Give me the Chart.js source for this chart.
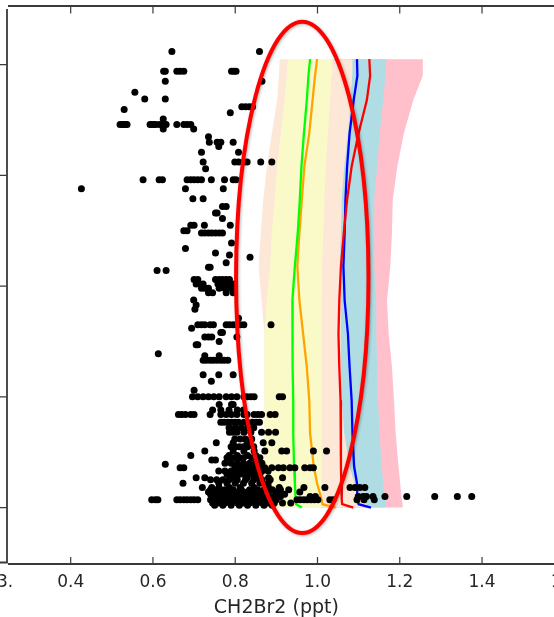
<!DOCTYPE html>
<html>
<head>
<meta charset="utf-8">
<script src="https://cdn.jsdelivr.net/npm/chart.js@4.4.1/dist/chart.umd.min.js"></script>
<style>
  html, body { margin: 0; padding: 0; background: #fff; overflow: hidden; }
  #chart { position: absolute; left: 0; top: 0; }
</style>
</head>
<body>
<canvas id="chart" width="640" height="617"></canvas>
<script>
// profile levels (y) shared by bands and model lines
const levels = [4.05, 3.9, 3.68, 3.38, 3.08, 2.78, 2.48, 2.18, 1.87, 1.57, 1.27, 0.97, 0.67, 0.37, 0.22, 0.07, 0.03, 0.0];

// band edges (x, ppt) at each level
const peachL = [0.908, 0.906, 0.902, 0.889, 0.877, 0.868, 0.862, 0.857, 0.864, 0.871, 0.871, 0.871, 0.871, 0.871, 0.871, 0.871, 0.871, 0.871];
const yellowL = [0.928, 0.925, 0.920, 0.911, 0.902, 0.896, 0.889, 0.885, 0.877, 0.871, 0.871, 0.871, 0.871, 0.871, 0.871, 0.871, 0.871, 0.871];
const yellowR = [1.035, 1.033, 1.031, 1.025, 1.020, 1.017, 1.014, 1.011, 1.010, 1.010, 1.010, 1.010, 1.010, 1.010, 1.010, 1.010, 1.010, 1.010];
const peachR = [1.085, 1.084, 1.081, 1.074, 1.065, 1.059, 1.057, 1.054, 1.057, 1.057, 1.057, 1.059, 1.065, 1.078, 1.090, 1.110, 1.118, 1.121];
const blueR = [1.167, 1.165, 1.160, 1.151, 1.145, 1.138, 1.138, 1.138, 1.143, 1.143, 1.145, 1.147, 1.151, 1.156, 1.160, 1.164, 1.166, 1.166];
const pinkR = [1.256, 1.256, 1.233, 1.210, 1.194, 1.183, 1.181, 1.177, 1.169, 1.173, 1.181, 1.186, 1.190, 1.197, 1.201, 1.205, 1.207, 1.207];

// model profiles
const greenLine = [0.982, 0.978, 0.974, 0.967, 0.961, 0.957, 0.952, 0.945, 0.939, 0.939, 0.940, 0.941, 0.941, 0.943, 0.945, 0.947, 0.948, 0.962];
const orangeLine = [0.999, 0.994, 0.988, 0.980, 0.968, 0.962, 0.956, 0.951, 0.956, 0.965, 0.974, 0.980, 0.982, 0.991, 0.999, 1.010, 1.012, 1.044];
const blueLine = [1.096, 1.097, 1.088, 1.078, 1.072, 1.068, 1.066, 1.063, 1.066, 1.074, 1.078, 1.083, 1.085, 1.089, 1.096, 1.097, 1.100, 1.130];
const redLine = [1.126, 1.128, 1.120, 1.100, 1.083, 1.072, 1.064, 1.057, 1.053, 1.051, 1.053, 1.056, 1.057, 1.057, 1.058, 1.059, 1.060, 1.087];

// observations: [y, [x values]]
const obsRows = [
  [4.12, [0.646, 0.859]],
  [3.94, [0.626, 0.630, 0.658, 0.666, 0.675, 0.791, 0.797, 0.802]],
  [3.85, [0.630, 0.865]],
  [3.75, [0.556]],
  [3.69, [0.580, 0.630]],
  [3.62, [0.816, 0.825, 0.834, 0.842]],
  [3.595, [0.530]],
  [3.565, [0.788]],
  [3.51, [0.625]],
  [3.46, [0.520, 0.525, 0.529, 0.533, 0.537, 0.593, 0.597, 0.602, 0.606, 0.615, 0.623, 0.628, 0.632, 0.658, 0.675, 0.683, 0.692]],
  [3.42, [0.625, 0.699]],
  [3.35, [0.735]],
  [3.30, [0.737, 0.756, 0.765, 0.795]],
  [3.26, [0.760]],
  [3.21, [0.718, 0.808]],
  [3.12, [0.722, 0.799, 0.808, 0.821, 0.829, 0.862, 0.889]],
  [3.06, [0.728]],
  [2.96, [0.576, 0.615, 0.623, 0.683, 0.692, 0.700, 0.709, 0.718, 0.742, 0.774, 0.795, 0.802]],
  [2.88, [0.426, 0.679, 0.771]],
  [2.79, [0.697, 0.722]],
  [2.72, [0.769, 0.778]],
  [2.66, [0.752, 0.756]],
  [2.61, [0.769]],
  [2.55, [0.692, 0.700, 0.725, 0.788]],
  [2.50, [0.675, 0.683]],
  [2.48, [0.718, 0.726, 0.735, 0.743, 0.752, 0.761, 0.769]],
  [2.39, [0.791]],
  [2.34, [0.679]],
  [2.30, [0.752]],
  [2.28, [0.786]],
  [2.26, [0.836]],
  [2.21, [0.778]],
  [2.17, [0.735, 0.739]],
  [2.14, [0.610, 0.632]],
  [2.06, [0.700, 0.709, 0.752, 0.761, 0.769, 0.778, 0.786]],
  [2.02, [0.705, 0.714, 0.722, 0.758, 0.768, 0.782, 0.795]],
  [1.98, [0.718, 0.726, 0.735, 0.761, 0.775, 0.789, 0.795]],
  [1.94, [0.735, 0.745, 0.778, 0.795]],
  [1.875, [0.699]],
  [1.83, [0.705]],
  [1.79, [0.702]],
  [1.71, [0.808]],
  [1.65, [0.709, 0.718, 0.726, 0.739, 0.747, 0.778, 0.786, 0.795, 0.804, 0.812, 0.821, 0.887]],
  [1.62, [0.694]],
  [1.58, [0.765, 0.769]],
  [1.54, [0.726, 0.735, 0.743, 0.804]],
  [1.50, [0.761]],
  [1.47, [0.705, 0.709]],
  [1.39, [0.613]],
  [1.37, [0.726, 0.761]],
  [1.33, [0.722, 0.730, 0.739, 0.747, 0.756, 0.765, 0.773, 0.782]],
  [1.20, [0.722, 0.760, 0.795]],
  [1.14, [0.742]],
  [1.06, [0.700]],
  [1.00, [0.696, 0.709, 0.722, 0.735, 0.748, 0.761, 0.778, 0.791, 0.804, 0.821, 0.829, 0.838, 0.846, 0.907, 0.915]],
  [0.93, [0.761, 0.791, 0.795]],
  [0.88, [0.745, 0.765, 0.785, 0.805, 0.820]],
  [0.84, [0.662, 0.670, 0.679, 0.692, 0.700, 0.739, 0.765, 0.778, 0.791, 0.804, 0.821, 0.829, 0.846, 0.855, 0.864, 0.885, 0.897]],
  [0.77, [0.765, 0.773, 0.782, 0.791, 0.799, 0.808, 0.821, 0.829, 0.842, 0.851, 0.859]],
  [0.72, [0.785, 0.800, 0.815, 0.830, 0.845]],
  [0.68, [0.786, 0.795, 0.804, 0.821, 0.838, 0.864, 0.881, 0.898]],
  [0.62, [0.799, 0.812, 0.825, 0.840]],
  [0.585, [0.754, 0.795, 0.829, 0.868, 0.889]],
  [0.55, [0.790, 0.800, 0.810, 0.820, 0.830, 0.845]],
  [0.51, [0.726, 0.795, 0.821, 0.846, 0.872, 0.913, 0.925, 0.990, 1.022]],
  [0.47, [0.692, 0.785, 0.805, 0.830, 0.850]],
  [0.45, [0.780, 0.790, 0.800, 0.810, 0.820, 0.840, 0.860]],
  [0.43, [0.743, 0.752]],
  [0.40, [0.775, 0.790, 0.805, 0.820, 0.835, 0.850, 0.865]],
  [0.39, [0.630]],
  [0.36, [0.666, 0.675, 0.799, 0.808, 0.816, 0.825, 0.834, 0.842, 0.851, 0.859, 0.872, 0.889, 0.905, 0.917, 0.933, 0.945, 0.969, 0.982, 0.990]],
  [0.33, [0.760, 0.775, 0.790, 0.805, 0.820, 0.835, 0.850, 0.865, 0.880]],
  [0.30, [0.780, 0.790, 0.800, 0.810, 0.820, 0.830, 0.840, 0.850, 0.860]],
  [0.27, [0.705, 0.726, 0.795, 0.829, 0.855, 0.881, 0.915]],
  [0.25, [0.740, 0.755, 0.770, 0.785, 0.805, 0.825, 0.845, 0.865, 0.885]],
  [0.22, [0.673, 0.760, 0.780, 0.800, 0.820, 0.840, 0.860, 0.880]],
  [0.18, [0.720, 0.743, 0.761, 0.786, 0.812, 0.846, 0.881, 0.907, 0.967, 1.018, 1.079, 1.091, 1.103, 1.115]],
  [0.16, [0.740, 0.755, 0.775, 0.795, 0.815, 0.835, 0.855, 0.870, 0.890, 0.910, 0.930]],
  [0.14, [0.735, 0.752, 0.769, 0.786, 0.800, 0.812, 0.829, 0.846, 0.864, 0.881, 0.898, 0.957]],
  [0.12, [0.740, 0.760, 0.780, 0.800, 0.820, 0.840, 0.860, 0.880, 0.900, 0.920]],
  [0.10, [0.745, 0.760, 0.775, 0.790, 0.805, 0.820, 0.835, 0.850, 0.865, 0.880, 0.895, 0.910, 0.982, 0.995, 1.099, 1.111, 1.119, 1.135, 1.164, 1.217, 1.285, 1.340, 1.375]],
  [0.07, [0.597, 0.606, 0.612, 0.658, 0.666, 0.675, 0.683, 0.692, 0.700, 0.709, 0.740, 0.750, 0.760, 0.770, 0.780, 0.790, 0.800, 0.810, 0.820, 0.830, 0.840, 0.850, 0.860, 0.870, 0.880, 0.890, 0.900, 0.950, 0.958, 0.967, 0.975, 0.984, 0.992, 1.001, 1.030, 1.038, 1.096, 1.113, 1.138]],
  [0.04, [0.745, 0.760, 0.775, 0.790, 0.805, 0.820, 0.835, 0.850, 0.865, 0.880, 0.895, 0.915, 0.935]],
  [0.02, [0.750, 0.770, 0.790, 0.810, 0.830, 0.850, 0.870, 0.890]],
];

const xTicks = [0.4, 0.6, 0.8, 1.0, 1.2, 1.4, 1.6];
const yTicks = [0, 1, 2, 3, 4];
const xLabel = 'CH2Br2 (ppt)';
const xLabelAt = 0.9;

// highlighted region (red ellipse), in data units
const ellipseCenter = { x: 0.963, y: 2.079 };
const ellipseRadii = { x: 0.161, y: 2.309 };

function toPoints(xs) {
  return levels.map((y, i) => ({ x: xs[i], y }));
}

function band(left, right) {
  return [...toPoints(left), ...toPoints(right).reverse()];
}

function bandDataset(left, right, color, order) {
  return {
    data: band(left, right),
    showLine: true,
    fill: 'shape',
    backgroundColor: color,
    borderWidth: 0,
    borderColor: 'rgba(0,0,0,0)',
    pointRadius: 0,
    order,
  };
}

function lineDataset(xs, color) {
  return {
    data: toPoints(xs),
    showLine: true,
    borderColor: color,
    borderWidth: 2.3,
    pointRadius: 0,
    fill: false,
    order: 1,
  };
}

const observations = obsRows.flatMap(([y, xs]) => xs.map((x) => ({ x, y })));

const framePlugin = {
  id: 'frame',
  afterDatasetsDraw(chart) {
    const { ctx, chartArea: a, scales: { x, y } } = chart;
    ctx.save();

    // ellipse
    const cx = x.getPixelForValue(ellipseCenter.x);
    const cy = y.getPixelForValue(ellipseCenter.y);
    const rx = x.getPixelForValue(ellipseCenter.x + ellipseRadii.x) - cx;
    const ry = cy - y.getPixelForValue(ellipseCenter.y + ellipseRadii.y);
    ctx.shadowColor = 'rgba(0,0,0,0.3)';
    ctx.shadowBlur = 3;
    ctx.shadowOffsetX = 1;
    ctx.shadowOffsetY = 1;
    ctx.strokeStyle = '#ff0000';
    ctx.lineWidth = 4;
    ctx.beginPath();
    ctx.ellipse(cx, cy, rx, ry, 0, 0, Math.PI * 2);
    ctx.stroke();
    ctx.shadowColor = 'rgba(0,0,0,0)';

    // spines
    ctx.strokeStyle = '#3a3a3a';
    ctx.lineWidth = 1.8;
    ctx.beginPath();
    ctx.moveTo(a.left, a.top);
    ctx.lineTo(chart.width, a.top);
    ctx.moveTo(a.left, a.bottom);
    ctx.lineTo(chart.width, a.bottom);
    ctx.moveTo(a.left - 1, a.top + 3);
    ctx.lineTo(a.left - 1, a.bottom - 1.5);
    ctx.lineTo(0, a.bottom - 1.5);
    ctx.stroke();

    // ticks: x inward on top and bottom, y outward to the left
    ctx.lineWidth = 1.2;
    ctx.beginPath();
    xTicks.forEach((v) => {
      const px = x.getPixelForValue(v);
      ctx.moveTo(px, a.top);
      ctx.lineTo(px, a.top + 7.5);
      ctx.moveTo(px, a.bottom);
      ctx.lineTo(px, a.bottom - 7);
    });
    yTicks.forEach((v) => {
      const py = y.getPixelForValue(v);
      ctx.moveTo(a.left - 1, py);
      ctx.lineTo(0, py);
    });
    ctx.stroke();

    ctx.fillStyle = '#262626';
    ctx.font = '19px "DejaVu Sans"';
    ctx.textAlign = 'center';
    ctx.textBaseline = 'alphabetic';
    ctx.fillText(xLabel, x.getPixelForValue(xLabelAt), 613);
    ctx.textAlign = 'left';
    ctx.font = '17px "DejaVu Sans"';
    ctx.fillText('3.', -3, 587);
    ctx.restore();
  },
};

new Chart(document.getElementById('chart'), {
  type: 'scatter',
  data: {
    datasets: [
      {
        data: observations,
        backgroundColor: '#000',
        borderWidth: 0,
        pointRadius: 3.5,
        order: 0,
      },
      lineDataset(greenLine, '#00ff00'),
      lineDataset(orangeLine, '#ffa500'),
      lineDataset(redLine, '#ff0000'),
      lineDataset(blueLine, '#0000ff'),
      bandDataset(yellowL, yellowR, '#fafac9', 2),
      bandDataset(peachL, peachR, '#fde8d7', 3),
      bandDataset(yellowR, blueR, '#b0dde4', 4),
      bandDataset(yellowR, pinkR, '#ffc0cb', 5),
    ],
  },
  options: {
    responsive: false,
    animation: false,
    layout: { padding: { top: 6, right: 14, left: 0, bottom: 0 } },
    plugins: { legend: { display: false }, tooltip: { enabled: false } },
    scales: {
      x: {
        type: 'linear',
        min: 0.2476,
        max: 1.75,
        afterBuildTicks: (s) => { s.ticks = xTicks.map((v) => ({ value: v })); },
        afterFit: (s) => { s.height = 53; },
        grid: { display: false },
        border: { display: false },
        ticks: {
          autoSkip: false,
          maxRotation: 0,
          padding: 0,
          color: '#262626',
          font: { family: 'DejaVu Sans', size: 17 },
          callback: (v) => Number(v).toFixed(1),
        },
      },
      y: {
        type: 'linear',
        min: -0.51,
        max: 4.53,
        afterFit: (s) => { s.width = 8; },
        grid: { display: false },
        border: { display: false },
        ticks: { display: false },
      },
    },
  },
  plugins: [framePlugin],
});
</script>
</body>
</html>
